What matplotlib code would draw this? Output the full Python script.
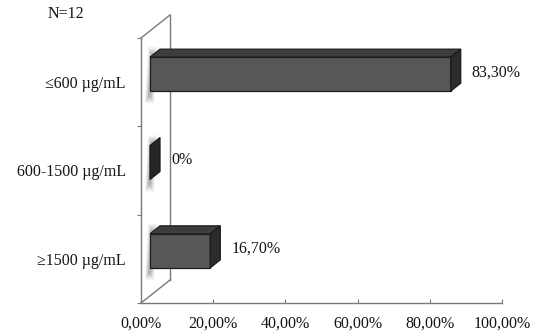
import matplotlib.pyplot as plt
from matplotlib.patches import Polygon

# data
categories = ["≤600 µg/mL", "600-1500 µg/mL", "≥1500 µg/mL"]
values = [83.3, 0.0, 16.7]
value_labels = ["83,30%", "0%", "16,70%"]
xticks = [0, 20, 40, 60, 80, 100]
xtick_labels = ["0,00%", "20,00%", "40,00%", "60,00%", "80,00%", "100,00%"]
note = "N=12"

plt.rcParams["font.family"] = ["Liberation Serif", "DejaVu Serif"]
txt_col = "#141414"
line_col = "#7a7a7a"

fig = plt.figure(figsize=(5.41, 3.33), dpi=100)
ax = fig.add_axes([141 / 541, 30 / 333, 361 / 541, 265 / 333])
n = len(categories)
ypos = list(range(n - 1, -1, -1))
ax.set_xlim(0, 100)
ax.set_ylim(-0.5, n - 0.5)


def off(x, y, dx, dy):
    # shift a data point by a pixel offset (pseudo 3d depth)
    X, Y = ax.transData.transform((x, y))
    return tuple(ax.transData.inverted().transform((X + dx, Y + dy)))


# side wall of the 3d frame
wall = (29, 23)
ax.plot(*zip(off(0, -0.5, *wall), off(0, n - 0.5, *wall)), color=line_col, lw=1, clip_on=False, zorder=1)
ax.plot(*zip((0, -0.5), off(0, -0.5, *wall)), color=line_col, lw=1, clip_on=False, zorder=1)
ax.plot(*zip((0, n - 0.5), off(0, n - 0.5, *wall)), color=line_col, lw=1, clip_on=False, zorder=1)

# bars
front = (9, 8)
back = (19, 16)
h = 34 / 88.33
for y, v in zip(ypos, values):
    y0, y1 = y - h / 2, y + h / 2
    # soft shadow of the bar on the wall
    for k, a in enumerate([0.12, 0.18, 0.25, 0.35]):
        g = Polygon([off(0, y0, 4 + k, -4 + 2 * k), off(0, y0, 13 - k, -4 + 2 * k),
                     off(0, y1, 16 - k, 18 - 2 * k), off(0, y1, 7 + k, 18 - 2 * k)],
                    closed=True, facecolor="#8c8c8c", edgecolor="none",
                    alpha=a, clip_on=False, zorder=2)
        ax.add_patch(g)
    if v > 0:
        fr = Polygon([off(0, y0, *front), off(v, y0, *front),
                      off(v, y1, *front), off(0, y1, *front)],
                     closed=True, facecolor="#575757", edgecolor="#1e1e1e",
                     lw=0.9, clip_on=False, zorder=4)
        top = Polygon([off(0, y1, *front), off(v, y1, *front),
                       off(v, y1, *back), off(0, y1, *back)],
                      closed=True, facecolor="#3d3d3d", edgecolor="#1e1e1e",
                      lw=0.9, clip_on=False, zorder=4)
        ax.add_patch(top)
        ax.add_patch(fr)
    side = Polygon([off(v, y0, *front), off(v, y0, *back),
                    off(v, y1, *back), off(v, y1, *front)],
                   closed=True, facecolor="#2c2c2c" if v > 0 else "#262626",
                   edgecolor="#1a1a1a", lw=0.9, clip_on=False, zorder=4)
    ax.add_patch(side)

for y, v, lab in zip(ypos, values, value_labels):
    ax.annotate(lab, xy=off(v, y, 30, 10), ha="left", va="center",
                fontsize=11.5, color=txt_col, annotation_clip=False)

# axes
for s in ["top", "right"]:
    ax.spines[s].set_visible(False)
for s in ["left", "bottom"]:
    ax.spines[s].set_color(line_col)
    ax.spines[s].set_linewidth(1)
ax.set_xticks(xticks)
ax.set_xticklabels(xtick_labels, fontsize=11.5, color=txt_col)
ax.tick_params(axis="x", direction="in", length=3, color=line_col, pad=9)
ax.set_yticks([i - 0.5 for i in range(n + 1)])
ax.set_yticklabels([])
ax.tick_params(axis="y", which="major", direction="out", length=3, color=line_col)
ax.set_yticks(ypos, minor=True)
ax.set_yticklabels(categories, minor=True, fontsize=11.5, color=txt_col)
ax.tick_params(axis="y", which="minor", length=0, pad=11)

fig.text(48 / 541, 1 - 14 / 333, note, ha="left", va="center",
         fontsize=11.5, color=txt_col)

fig.savefig("out.png", dpi=100)
